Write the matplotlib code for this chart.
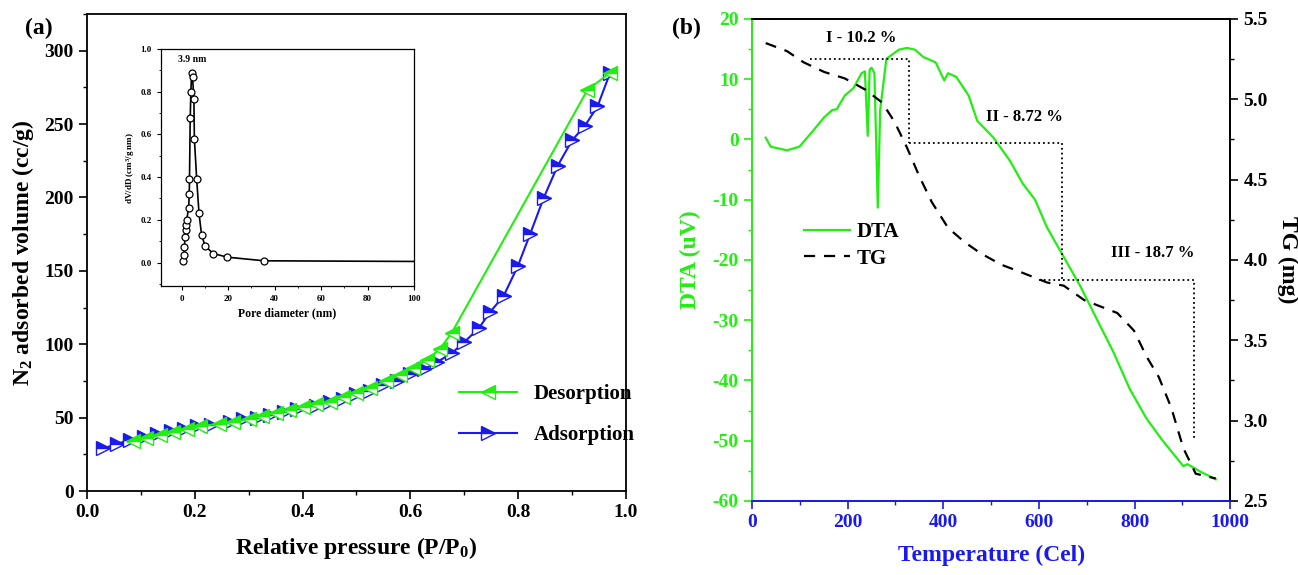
import numpy as np
import matplotlib.pyplot as plt
from matplotlib.ticker import MultipleLocator

plt.rcParams['font.family'] = 'Liberation Serif'
plt.rcParams['font.weight'] = 'bold'
plt.rcParams['axes.unicode_minus'] = False
plt.rcParams['mathtext.fontset'] = 'custom'
plt.rcParams['mathtext.rm'] = 'Liberation Serif:bold'
plt.rcParams['mathtext.bf'] = 'Liberation Serif:bold'
plt.rcParams['mathtext.it'] = 'Liberation Serif:bold'

# --- (a) N2 isotherm ---
ads_p = [0.03, 0.055, 0.08, 0.105, 0.13, 0.155, 0.18, 0.205, 0.23, 0.265, 0.29, 0.315,
         0.34, 0.365, 0.39, 0.425, 0.45, 0.475, 0.50, 0.525, 0.55, 0.575, 0.60, 0.625,
         0.65, 0.677, 0.70, 0.727, 0.748, 0.773, 0.799, 0.822, 0.847, 0.873, 0.90,
         0.924, 0.947, 0.97]
ads_v = [29, 32, 35, 37, 39, 41, 42, 44, 45, 47, 49, 50,
         52, 54, 56, 58, 61, 63, 66, 68, 72, 75, 79.5, 83,
         88, 94, 101.5, 111, 122, 133, 153, 175, 199.5, 221.5, 239,
         249, 262, 284.5]

des_p = [0.97, 0.928, 0.677, 0.655, 0.63, 0.605, 0.58, 0.555, 0.525, 0.50, 0.475,
         0.45, 0.425, 0.40, 0.375, 0.35, 0.325, 0.30, 0.27, 0.245, 0.21, 0.185,
         0.16, 0.135, 0.11, 0.085]
des_v = [285, 273, 108, 97, 89, 84, 79, 75, 70, 67, 64,
         61, 59, 57, 55, 53, 51, 49, 47, 46, 44, 42,
         40, 38, 36, 34]

# inset: pore size distribution
pore_d = [0.7, 1.0, 1.1, 1.4, 1.7, 1.9, 2.1, 2.9, 3.2, 3.3, 3.6, 3.9, 4.2, 4.6,
          5.2, 5.4, 6.4, 7.4, 8.5, 10, 13.6, 19.6, 35.5]
pore_v = [0.008, 0.034, 0.073, 0.12, 0.15, 0.175, 0.2, 0.253, 0.32, 0.39, 0.675,
          0.80, 0.886, 0.87, 0.766, 0.58, 0.39, 0.23, 0.13, 0.077, 0.042, 0.025, 0.008]
tail_d = [35.5, 100]
tail_v = [0.008, 0.005]

# --- (b) DTA / TG ---
dta_t = [28.5, 39, 73, 99, 125, 151, 168, 177, 194, 212, 229, 236, 242, 246, 250,
         256, 263, 268, 281, 307, 324, 341, 358, 384, 402, 410, 427, 453, 471, 505,
         540, 566, 592, 617, 652, 687, 721, 756, 790, 825, 859, 902, 911, 937, 970]
dta_v = [0.3, -1.2, -1.8, -1.2, 1.2, 3.7, 4.9, 5.0, 7.3, 8.5, 11.0, 11.3, 0.6, 11.6, 11.9,
         11.0, -11.3, 4.9, 13.4, 14.9, 15.2, 14.9, 13.7, 12.8, 9.8, 11.0, 10.4, 7.3, 3.1, 0.3,
         -3.6, -7.3, -10.0, -14.6, -19.5, -24.4, -29.8, -35.3, -41.4, -46.3, -50.0, -54.2,
         -53.9, -55.1, -56.4]

tg_t = [28.5, 73, 108, 151, 194, 237, 272, 298, 324, 350, 376, 410, 445, 479, 522,
        566, 617, 652, 695, 738, 764, 799, 825, 851, 877, 902, 928, 970]
tg_v = [5.35, 5.30, 5.23, 5.17, 5.13, 5.06, 4.98, 4.86, 4.70, 4.52, 4.36, 4.20, 4.11,
        4.04, 3.97, 3.92, 3.86, 3.84, 3.75, 3.70, 3.67, 3.56, 3.40, 3.27, 3.08, 2.83,
        2.67, 2.64]

steps = ['I - 10.2 %', 'II - 8.72 %', 'III - 18.7 %']
step_x = [[121, 328, 328], [328, 648, 648], [600, 924, 924]]
step_y = [[13.4, 13.4, -0.6], [-0.6, -0.6, -23.4], [-23.4, -23.4, -49.7]]
step_lbl_x = [229, 570, 838]
step_lbl_y = [16.8, 3.7, -18.9]

GREEN = '#22ee11'
BLUE = '#1a1aee'

fig = plt.figure(figsize=(12.98, 5.75), dpi=100)

def style_ticks(ax, size=14):
    ax.tick_params(which='major', direction='out', length=6, width=1.2, labelsize=size)
    ax.tick_params(which='minor', direction='out', length=3, width=1.0)
    for s in ax.spines.values():
        s.set_linewidth(1.3)

# panel a
ax1 = fig.add_axes([0.067, 0.146, 0.4153, 0.8296])
ax1.plot(des_p, des_v, '-', color=GREEN, lw=1.5, marker='<', ms=10, fillstyle='top',
         markerfacecoloralt='white', mec=GREEN, mew=1.0, label='Desorption', zorder=3)
ax1.plot(ads_p, ads_v, '-', color=BLUE, lw=1.5, marker='>', ms=10, fillstyle='top',
         markerfacecoloralt='white', mec=BLUE, mew=1.0, label='Adsorption', zorder=2)
ax1.set_xlim(0, 1.0)
ax1.set_ylim(0, 325)
ax1.xaxis.set_major_locator(MultipleLocator(0.2))
ax1.xaxis.set_minor_locator(MultipleLocator(0.1))
ax1.yaxis.set_major_locator(MultipleLocator(50))
ax1.yaxis.set_minor_locator(MultipleLocator(25))
style_ticks(ax1)
ax1.set_xlabel('Relative pressure (P/P$_0$)', fontsize=17, fontweight='bold', labelpad=10)
ax1.set_ylabel('N$_2$ adsorbed volume (cc/g)', fontsize=17, fontweight='bold', labelpad=6)
ax1.legend(loc='center left', bbox_to_anchor=(0.655, 0.16), frameon=False, fontsize=15,
           handlelength=2.8, labelspacing=1.0)
fig.text(0.019, 0.94, '(a)', fontsize=17, fontweight='bold')

# inset
axi = fig.add_axes([0.124, 0.5026, 0.1949, 0.4122])
axi.plot(tail_d, tail_v, '-', color='black', lw=1.2)
axi.plot(pore_d, pore_v, '-', color='black', lw=1.2, marker='o', ms=5,
         mfc='white', mec='black', mew=0.9)
axi.set_xlim(-9, 100)
axi.set_ylim(-0.11, 1.0)
axi.xaxis.set_major_locator(MultipleLocator(20))
axi.xaxis.set_minor_locator(MultipleLocator(10))
axi.yaxis.set_major_locator(MultipleLocator(0.2))
axi.yaxis.set_minor_locator(MultipleLocator(0.1))
axi.tick_params(which='major', direction='out', length=3, width=0.8, labelsize=6.5)
axi.tick_params(which='minor', direction='out', length=1.5, width=0.6)
for s in axi.spines.values():
    s.set_linewidth(0.9)
axi.set_xlabel('Pore diameter (nm)', fontsize=8.5, fontweight='bold', labelpad=3)
axi.set_ylabel('dV/dD (cm$^3$/g nm)', fontsize=6.5, fontweight='bold', labelpad=3)
axi.text(4.3, 0.94, '3.9 nm', fontsize=7, fontweight='bold', ha='center')

# panel b
ax2 = fig.add_axes([0.5794, 0.1287, 0.3683, 0.8383])
ax2.plot(dta_t, dta_v, '-', color=GREEN, lw=1.6, label='DTA')
for xs, ys in zip(step_x, step_y):
    ax2.plot(xs, ys, ':', color='black', lw=1.3)
for lbl, lx, ly in zip(steps, step_lbl_x, step_lbl_y):
    ax2.text(lx, ly, lbl, fontsize=12, fontweight='bold', ha='center', va='center')
ax2.set_xlim(0, 1000)
ax2.set_ylim(-60, 20)
ax2.xaxis.set_major_locator(MultipleLocator(200))
ax2.xaxis.set_minor_locator(MultipleLocator(100))
ax2.yaxis.set_major_locator(MultipleLocator(10))
ax2.yaxis.set_minor_locator(MultipleLocator(5))
style_ticks(ax2)
ax2.tick_params(axis='x', which='both', colors=BLUE)
ax2.tick_params(axis='y', which='both', colors=GREEN)
ax2.spines['left'].set_color(GREEN)
ax2.spines['bottom'].set_color(BLUE)
ax2.set_xlabel('Temperature (Cel)', fontsize=17, fontweight='bold', color=BLUE, labelpad=10)
ax2.set_ylabel('DTA (uV)', fontsize=17, fontweight='bold', color=GREEN, labelpad=8)

ax3 = ax2.twinx()
ax3.plot(tg_t, tg_v, '--', color='black', lw=1.6, dashes=(5, 4), label='TG')
ax3.set_ylim(2.5, 5.5)
ax3.yaxis.set_major_locator(MultipleLocator(0.5))
ax3.yaxis.set_minor_locator(MultipleLocator(0.25))
style_ticks(ax3)
ax3.spines['left'].set_color(GREEN)
ax3.spines['bottom'].set_color(BLUE)
ax3.set_ylabel('TG (mg)', fontsize=17, fontweight='bold', rotation=270, labelpad=22)

h1, l1 = ax2.get_legend_handles_labels()
h2, l2 = ax3.get_legend_handles_labels()
ax3.legend(h1 + h2, l1 + l2, loc='center left', bbox_to_anchor=(0.07, 0.53), frameon=False,
           fontsize=15, handlelength=2.2, labelspacing=0.3, handletextpad=0.3)
fig.text(0.518, 0.94, '(b)', fontsize=17, fontweight='bold')

fig.savefig('out.png', dpi=100)
